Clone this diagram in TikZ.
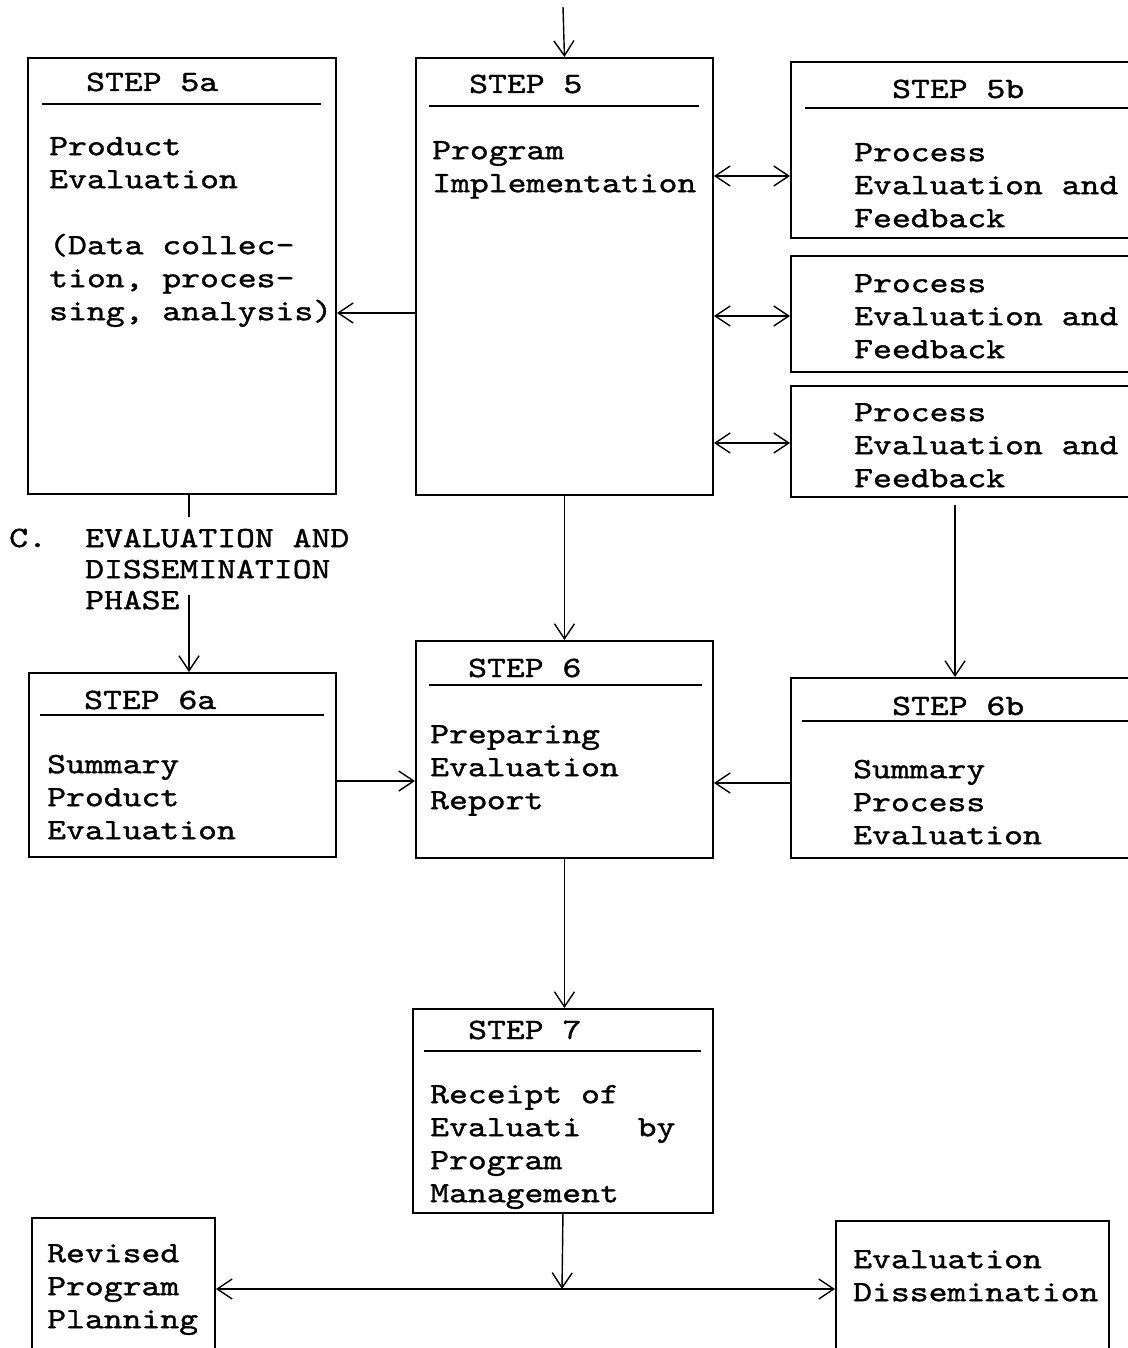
\documentclass[tikz,border=0pt]{standalone}
\usepackage{fontspec}
\usepackage{tikz}
\usetikzlibrary{arrows.meta,positioning}
\newfontfamily\typewriter{lmmono10-regular}[Extension=.otf, FakeStretch=1.218, FakeBold=1.2]
\newcommand{\firstrow}{\rule{0pt}{28pt}}

\begin{document}
\begin{tikzpicture}[x=1pt, y=-1pt,
      font=\typewriter\fontsize{29.5}{33}\selectfont,
      >={Straight Barb[length=15pt,width=20pt]},
      box/.style={draw, line width=1.9pt, anchor=north west, inner sep=0pt},
      title/.style={anchor=base west, inner sep=0pt},
      txt/.style={anchor=north west, yshift=28pt, inner sep=0pt, align=left},
      rule/.style={line width=1.7pt},
      flow/.style={->, line width=1.4pt},
      twoway/.style={<->, line width=1.4pt}]
    \useasboundingbox (0,0) rectangle (1127,1348);

    % boxes
    \node[box, minimum width=308pt, minimum height=436pt] (p5a) at (27,57) {};
    \node[box, minimum width=297pt, minimum height=437pt] (p5) at (415,57) {};
    \node[box, minimum width=360pt, minimum height=176pt] (p5b) at (790,61) {};
    \node[box, minimum width=360pt, minimum height=116pt] (pe2) at (790,255) {};
    \node[box, minimum width=360pt, minimum height=111pt] (pe3) at (790,385) {};
    \node[box, minimum width=307pt, minimum height=184pt] (p6a) at (28,672) {};
    \node[box, minimum width=297pt, minimum height=217pt] (p6) at (415,640) {};
    \node[box, minimum width=360pt, minimum height=180pt] (p6b) at (790,677) {};
    \node[box, minimum width=300pt, minimum height=204pt] (p7) at (412,1008) {};
    \node[box, minimum width=183pt, minimum height=160pt] (rev) at (31,1217) {};
    \node[box, minimum width=273pt, minimum height=160pt] (dis) at (835,1220) {};

    % titles and rules
    \node[title] (t5a) at (86,91) {STEP 5a};
    \draw[rule] (42,104) -- (321,104);
    \node[title] (t5) at (469,93) {STEP 5};
    \draw[rule] (429,106) -- (699,106);
    \node[title] (t5b) at (892,98) {STEP 5b};
    \draw[rule] (805,108) -- (1140,108);
    \node[title] (t6a) at (84,709) {STEP 6a};
    \draw[rule] (40,715) -- (324,715);
    \node[title] (t6) at (468,677) {STEP 6};
    \draw[rule] (429,685) -- (702,685);
    \node[title] (t6b) at (892,715) {STEP 6b};
    \draw[rule] (802,721) -- (1140,721);
    \node[title] (t7) at (468,1039) {STEP 7};
    \draw[rule] (424,1051) -- (701,1051);

    % box texts
    \node[txt] (x5a) at (49,155) {\firstrow Product\\Evaluation\\[33pt](Data collec-\\tion, proces-\\sing, analysis)};
    \node[txt] (x5) at (432,159) {\firstrow Program\\Implementation};
    \node[txt] (x5b) at (854,161) {\firstrow Process\\Evaluation and\\Feedback};
    \node[txt] (xe2) at (854,292) {\firstrow Process\\Evaluation and\\Feedback};
    \node[txt] (xe3) at (854,421) {\firstrow Process\\Evaluation and\\Feedback};
    \node[txt] (x6a) at (47,773) {\firstrow Summary\\Product\\Evaluation};
    \node[txt] (x6) at (430,743) {\firstrow Preparing\\Evaluation\\Report};
    \node[txt] (x6b) at (853,778) {\firstrow Summary\\Process\\Evaluation};
    \node[txt] (x7) at (430,1103) {\firstrow Receipt of\\Evaluati\phantom{on} by\\Program\\Management};
    \node[txt] (xrev) at (47,1262) {\firstrow Revised\\Program\\Planning};
    \node[txt] (xdis) at (853,1268) {\firstrow Evaluation\\Dissemination};

    % phase label
    \node[title] (phc) at (9,547) {C.};
    \node[txt, font=\typewriter\fontsize{29.5}{31}\selectfont] (phase) at (85,547) {\firstrow EVALUATION AND\\DISSEMINATION\\PHASE};

    % connectors
    \coordinate (entry) at (563,7);
    \coordinate (gapA) at (189,517);
    \coordinate (gapB) at (189,595);
    \coordinate (drop) at (955,505);
    \coordinate (fork) at (562,1289);
    \draw[flow] (entry) -- (p5.north);
    \draw[flow] (p5.west |- 0,313) -- (p5a.east |- 0,313);
    \draw[twoway] (p5.east |- 0,176) -- (p5b.west |- 0,176);
    \draw[twoway] (p5.east |- 0,316) -- (pe2.west |- 0,316);
    \draw[twoway] (p5.east |- 0,443) -- (pe3.west |- 0,443);
    \draw[line width=1.4pt] (gapA |- p5a.south) -- (gapA);
    \draw[flow] (gapB) -- (gapB |- p6a.north);
    \draw[flow] (p5.south) -- (p6.north);
    \draw[flow] (drop) -- (drop |- p6b.north);
    \draw[flow] (p6a.east |- 0,781) -- (p6.west |- 0,781);
    \draw[flow] (p6b.west |- 0,783) -- (p6.east |- 0,783);
    \draw[flow] (p6.south) -- (p7.north -| p6.south);
    \draw[flow] (p7.south) -- (fork);
    \draw[flow] (fork) -- (rev.east |- fork);
    \draw[flow] (fork) -- (dis.west |- fork);
\end{tikzpicture}
\end{document}
